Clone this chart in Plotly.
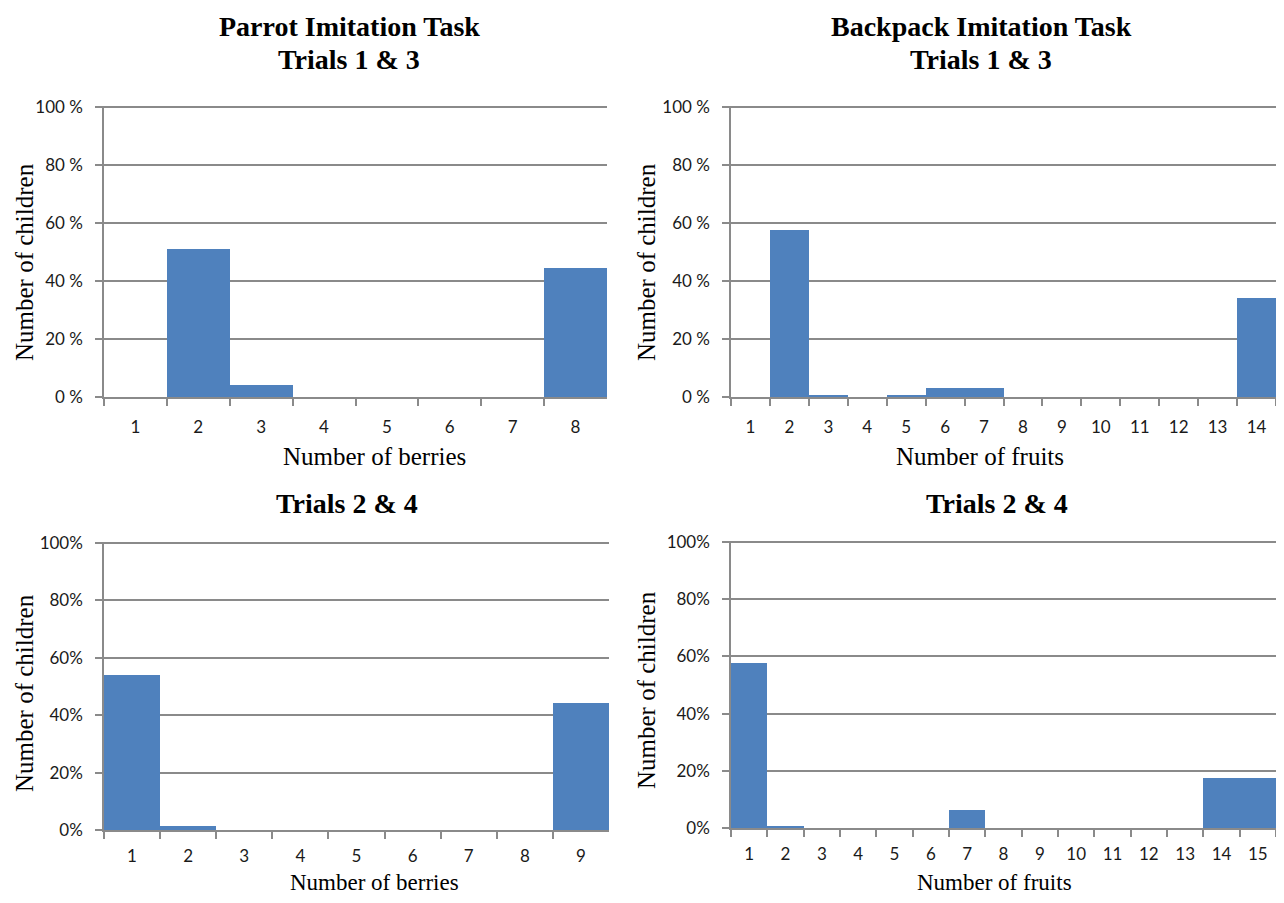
import plotly.graph_objects as go

# ---------------- data ----------------
parrot_t13_cats = ["1", "2", "3", "4", "5", "6", "7", "8"]
parrot_t13_vals = [0, 51.1, 4.3, 0, 0, 0, 0, 44.7]

backpack_t13_cats = [str(i) for i in range(1, 15)]
backpack_t13_vals = [0, 57.5, 0.9, 0, 0.9, 3.2, 3.2, 0, 0, 0, 0, 0, 0, 34.2]

parrot_t24_cats = [str(i) for i in range(1, 10)]
parrot_t24_vals = [54.2, 1.4, 0, 0, 0, 0, 0, 0, 44.4]

backpack_t24_cats = [str(i) for i in range(1, 16)]
backpack_t24_vals = [57.6, 0.9, 0, 0, 0, 0, 6.5, 0, 0, 0, 0, 0, 0, 17.4, 17.4]

y_ticks = [0, 20, 40, 60, 80, 100]
y_text_spaced = ["0 %", "20 %", "40 %", "60 %", "80 %", "100 %"]
y_text_plain = ["0%", "20%", "40%", "60%", "80%", "100%"]

# ---------------- layout helpers ----------------
PAGE_W, PAGE_H = 1284, 903
OFF = 8                      # default body margin of the html page
FW, FH = PAGE_W - 2 * OFF, PAGE_H - 2 * OFF
BAR = "#4F81BD"
GRID = "#8a8a8a"
SERIF = "Liberation Serif, Times New Roman, serif"
SANS = "Lato, Liberation Sans, sans-serif"
YMAX = 100.4


def px_x(p):
    return (p - OFF) / FW


def px_y(p):
    return 1 - (p - OFF) / FH


panels = [
    # (cats, vals, x px (left,right), y px of 100% and 0%, yticktext, label standoff)
    (parrot_t13_cats, parrot_t13_vals, (104, 607), (107, 397), y_text_spaced, 14),
    (backpack_t13_cats, backpack_t13_vals, (731, 1276), (107, 397), y_text_spaced, 14),
    (parrot_t24_cats, parrot_t24_vals, (104, 609), (543, 830), y_text_plain, 10),
    (backpack_t24_cats, backpack_t24_vals, (731, 1276), (542, 828), y_text_plain, 10),
]

fig = go.Figure()
layout = {}
for i, (cats, vals, xd, yd, ytxt, sto) in enumerate(panels, start=1):
    sfx = "" if i == 1 else str(i)
    top_px = yd[1] - (yd[1] - yd[0]) * YMAX / 100.0
    fig.add_trace(go.Bar(
        x=cats, y=vals,
        xaxis="x" + sfx, yaxis="y" + sfx,
        marker=dict(color=BAR, line=dict(width=0)),
        showlegend=False, hoverinfo="x+y",
    ))
    layout["xaxis" + sfx] = dict(
        domain=[px_x(xd[0]), px_x(xd[1])],
        anchor="y" + sfx,
        type="category",
        tickson="boundaries",
        ticks="outside", ticklen=7, tickwidth=1.5, tickcolor=GRID,
        showline=True, linecolor=GRID, linewidth=1.5,
        showgrid=False, zeroline=False,
        tickfont=dict(family=SANS, size=17, color="#1a1a1a"),
        ticklabelstandoff=sto,
        automargin=False,
        fixedrange=True,
    )
    layout["yaxis" + sfx] = dict(
        domain=[px_y(yd[1]), px_y(top_px)],
        anchor="x" + sfx,
        range=[0, YMAX],
        tickvals=y_ticks, ticktext=ytxt,
        ticks="outside", ticklen=7, tickwidth=1.5, tickcolor=GRID,
        showline=True, linecolor=GRID, linewidth=1.5,
        showgrid=True, gridcolor=GRID, gridwidth=1.5,
        zeroline=False,
        tickfont=dict(family=SANS, size=17, color="#1a1a1a"),
        ticklabelstandoff=9,
        automargin=False,
        fixedrange=True,
    )

annotations = []


def ann(text, x, y, size, bold=False, angle=0):
    annotations.append(dict(
        text=("<b>%s</b>" % text) if bold else text,
        x=px_x(x), y=px_y(y), xref="paper", yref="paper",
        xanchor="center", yanchor="middle", showarrow=False,
        textangle=angle, borderpad=0,
        font=dict(family=SERIF, size=size, color="#000000"),
    ))


# panel titles
ann("Parrot Imitation Task", 349, 26, 28, bold=True)
ann("Trials 1 &amp; 3", 349, 59, 28, bold=True)
ann("Backpack Imitation Task", 981, 26, 28, bold=True)
ann("Trials 1 &amp; 3", 981, 59, 28, bold=True)
ann("Trials 2 &amp; 4", 347, 503, 28, bold=True)
ann("Trials 2 &amp; 4", 997, 503, 28, bold=True)

# x-axis titles
ann("Number of berries", 374, 457, 25)
ann("Number of fruits", 980, 457, 25)
ann("Number of berries", 375, 882, 23)
ann("Number of fruits", 994, 882, 23)

# y-axis titles
ann("Number of children", 24, 262, 25, angle=-90)
ann("Number of children", 646, 262, 25, angle=-90)
ann("Number of children", 24, 693, 25, angle=-90)
ann("Number of children", 646, 690, 25, angle=-90)

fig.update_layout(
    width=FW, height=FH,
    margin=dict(l=0, r=0, t=0, b=0, autoexpand=False),
    paper_bgcolor="white", plot_bgcolor="white",
    bargap=0,
    annotations=annotations,
    **layout,
)

fig.write_html("out.html")
